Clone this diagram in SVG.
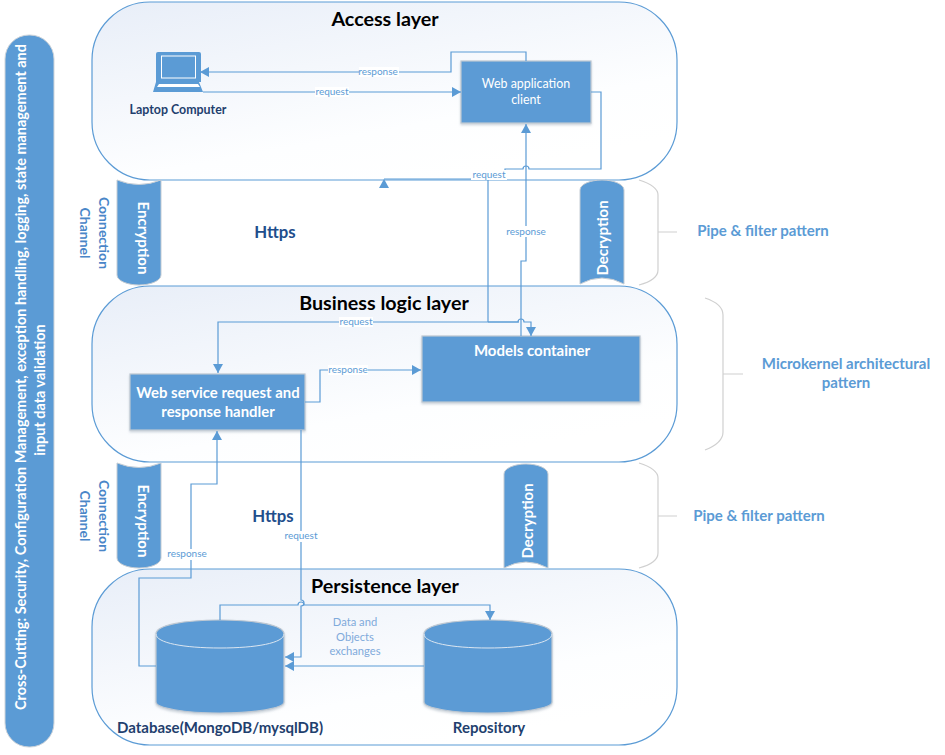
<svg xmlns="http://www.w3.org/2000/svg" width="945" height="755" viewBox="0 0 945 755">
<style>
text{font-family:"Lato","Liberation Sans",sans-serif;text-anchor:middle}
.layer{fill:url(#lg);stroke:#5b9bd5;stroke-width:1.2}
.box{fill:#5b9bd5;stroke:#bfc8d2;stroke-width:1.2;filter:url(#sh)}
.cyl{fill:#5b9bd5;stroke:#c4ccd4;stroke-width:1}
.brace{fill:none;stroke:#d0d0d0;stroke-width:1.2}
.conn{fill:none;stroke:#5b9bd5;stroke-width:1.2}
.thin{fill:none;stroke:#5b9bd5;stroke-width:1.2;marker-end:url(#ah)}
.title{font-size:19.700px;font-weight:700;fill:#000}
.lbl{font-size:10px;fill:#5b9bd5}
.lbl2{font-size:11.200px;fill:#7faadb}
.wt{fill:#fff;font-weight:700}
.side{fill:#4a86c8;font-weight:700}
.pat{fill:#5b9bd5;font-weight:700;font-size:15px}
.dark{fill:#1f3f6e;font-size:15px;font-weight:700}
.bg{fill:#fff}
</style>
<defs>
<linearGradient id="lg" x1="0" y1="0" x2="0.6" y2="1"><stop offset="0" stop-color="#e8eef8"/><stop offset="0.75" stop-color="#fdfeff"/><stop offset="1" stop-color="#fff"/></linearGradient>
<filter id="sh" x="-5%" y="-5%" width="110%" height="115%"><feDropShadow dx="0" dy="1.5" stdDeviation="1" flood-color="#8a9aaa" flood-opacity="0.45"/></filter>
<marker id="ah" markerUnits="userSpaceOnUse" viewBox="0 0 9 10" refX="9" refY="5" markerWidth="9" markerHeight="10" orient="auto"><path d="M0 0L9 5L0 10Z" fill="#5b9bd5"/></marker>
</defs>

<g id="cross-cutting">
<rect x="5" y="35" width="49" height="712" rx="24" fill="#5b9bd5" stroke="#d0d5da" stroke-width="1"/>
<text transform="translate(26,377) rotate(-90)" font-size="14.450" class="wt">Cross-Cutting: Security, Configuration Management, exception handling, logging, state management and</text>
<text transform="translate(45,390) rotate(-90)" font-size="14.450" class="wt">input data validation</text>
</g>

<g id="access-layer">
<rect class="layer" x="92" y="2" width="585" height="178" rx="58"/>
<text class="title" x="385" y="26">Access layer</text>
</g>
<g id="business-layer">
<rect class="layer" x="92" y="286" width="585" height="176" rx="58"/>
<text class="title" x="384" y="310">Business logic layer</text>
</g>
<g id="persistence-layer">
<rect class="layer" x="92" y="569" width="585" height="176" rx="58"/>
<text class="title" x="385" y="593">Persistence layer</text>
</g>

<g id="encryption-1">
<path class="cyl" d="M117 180Q139 189 161 180V275C161 281 150 285 139 285S117 281 117 275Z"/>
<text transform="translate(138,238) rotate(90)" font-size="15" class="wt">Encryption</text>
</g>
<g id="decryption-1">
<path class="cyl" d="M580 190C580 184 591 180 602 180S624 184 624 190V284Q602 272 580 284Z"/>
<text transform="translate(608,238) rotate(-90)" font-size="15" class="wt">Decryption</text>
</g>
<g id="encryption-2">
<path class="cyl" d="M117 463Q139 472 161 463V558C161 564 150 568 139 568S117 564 117 558Z"/>
<text transform="translate(138,521) rotate(90)" font-size="15" class="wt">Encryption</text>
</g>
<g id="decryption-2">
<path class="cyl" d="M504 474C504 468 515 464 526 464S548 468 548 474V568Q526 556 504 568Z"/>
<text transform="translate(533,521) rotate(-90)" font-size="15" class="wt">Decryption</text>
</g>

<g id="braces">
<path class="brace" d="M639 180Q658 186 658 195V270Q658 280 639 285M658 232H677"/>
<path class="brace" d="M705 298Q723 304 723 315V432Q723 443 705 450M723 374H743"/>
<path class="brace" d="M639 463Q658 469 658 478V553Q658 563 639 568M658 516H677"/>
</g>

<g id="connection-channel-1">
<text transform="translate(99,233) rotate(90)" font-size="14" class="side">Connection</text>
<text transform="translate(80,233) rotate(90)" font-size="14" class="side">Channel</text>
</g>
<g id="connection-channel-2">
<text transform="translate(99,516) rotate(90)" font-size="14" class="side">Connection</text>
<text transform="translate(80,516) rotate(90)" font-size="14" class="side">Channel</text>
</g>
<g id="https-labels">
<text x="275" y="238" font-size="16.800" font-weight="700" fill="#1f4e8c">Https</text>
<text x="273" y="522" font-size="16.800" font-weight="700" fill="#1f4e8c">Https</text>
</g>
<g id="pattern-labels">
<text x="763" y="236" class="pat">Pipe &amp; filter pattern</text>
<text x="759" y="521" class="pat">Pipe &amp; filter pattern</text>
<text x="846" y="369" class="pat">Microkernel architectural</text>
<text x="846" y="388" class="pat">pattern</text>
</g>

<g id="laptop">
<path d="M158 52H199Q201 52 201 54V82H156V54Q156 52 158 52Z" fill="#5b9bd5"/>
<rect x="161.500" y="56" width="34" height="22" fill="#5b9bd5" stroke="#fff" stroke-width="1"/>
<path d="M156 82H199L203 92H153Z" fill="#5b9bd5"/>
<path d="M159 84H198L200 87H157Z" fill="#fff"/>
<text class="dark" x="178" y="114" style="font-size:12.400px">Laptop Computer</text>
</g>

<g id="web-app-client">
<rect class="box" x="461" y="61" width="130" height="62"/>
<text x="526" y="88" font-size="12.400" fill="#fff">Web application</text>
<text x="526" y="104" font-size="12.400" fill="#fff">client</text>
</g>
<g id="models-container">
<rect class="box" x="422" y="336" width="218" height="66"/>
<text x="532" y="356" font-size="15" class="wt">Models container</text>
</g>
<g id="web-service-handler">
<rect class="box" x="130" y="374" width="175" height="56"/>
<text x="218" y="398" font-size="14.900" class="wt">Web service request and</text>
<text x="218" y="417" font-size="14.900" class="wt">response handler</text>
</g>
<g id="database">
<path class="box" d="M156 634C156 625 184 620 220 620S284 625 284 634V702C284 708 256 713 220 713S156 708 156 702Z"/>
<path d="M156 634C156 643 184 648 220 648S284 643 284 634" fill="none" stroke="#dbe6f1"/>
<text class="dark" x="220" y="733">Database(MongoDB/mysqlDB)</text>
</g>
<g id="repository">
<path class="box" d="M424 634C424 625 452 620 488 620S552 625 552 634V702C552 708 524 713 488 713S424 708 424 702Z"/>
<path d="M424 634C424 643 452 648 488 648S552 643 552 634" fill="none" stroke="#dbe6f1"/>
<text class="dark" x="489" y="733">Repository</text>
</g>

<g id="connectors">
<path class="thin" d="M526 61V52H451V72H200"/>
<path class="thin" d="M203 92H461"/>
<path class="conn" d="M591 92H601V169H529A3 3 0 0 0 523 169H505V179H384"/>
<path d="M384 179L389 188H379Z" fill="#5b9bd5"/>
<path class="conn" d="M488 179V322"/>
<path class="thin" d="M519 322H218V373"/>
<path class="thin" d="M488 322H518A3 3 0 0 1 524 322H531V336"/>
<path class="thin" d="M521 336V261H526V124"/>
<path class="thin" d="M305 402H320V370H421"/>
<path class="thin" d="M301 430V600A3 3 0 0 1 301 606V657H285"/>
<path class="thin" d="M424 666H285"/>
<path class="thin" d="M220 620V605H298A3 3 0 0 1 304 605H490V620"/>
<path class="thin" d="M156 666H139V578H191V484H217V431"/>
<g class="labels">
<rect class="bg" x="359" y="67" width="40" height="10"/><text class="lbl" x="378" y="75">response</text>
<rect class="bg" x="315" y="87" width="34" height="10"/><text class="lbl" x="332" y="95">request</text>
<rect class="bg" x="471" y="170" width="36" height="10"/><text class="lbl" x="489" y="178">request</text>
<rect class="bg" x="506" y="226" width="40" height="11"/><text class="lbl" x="526" y="235">response</text>
<rect class="bg" x="339" y="317" width="34" height="10"/><text class="lbl" x="356" y="325">request</text>
<rect class="bg" x="328" y="365" width="40" height="10"/><text class="lbl" x="348" y="373">response</text>
<rect class="bg" x="284" y="531" width="34" height="11"/><text class="lbl" x="301" y="539">request</text>
<rect class="bg" x="167" y="549" width="40" height="11"/><text class="lbl" x="187" y="557">response</text>
<text class="lbl2" x="355" y="626">Data and</text>
<text class="lbl2" x="355" y="641">Objects</text>
<text class="lbl2" x="355" y="655">exchanges</text>
</g>
</g>
</svg>
